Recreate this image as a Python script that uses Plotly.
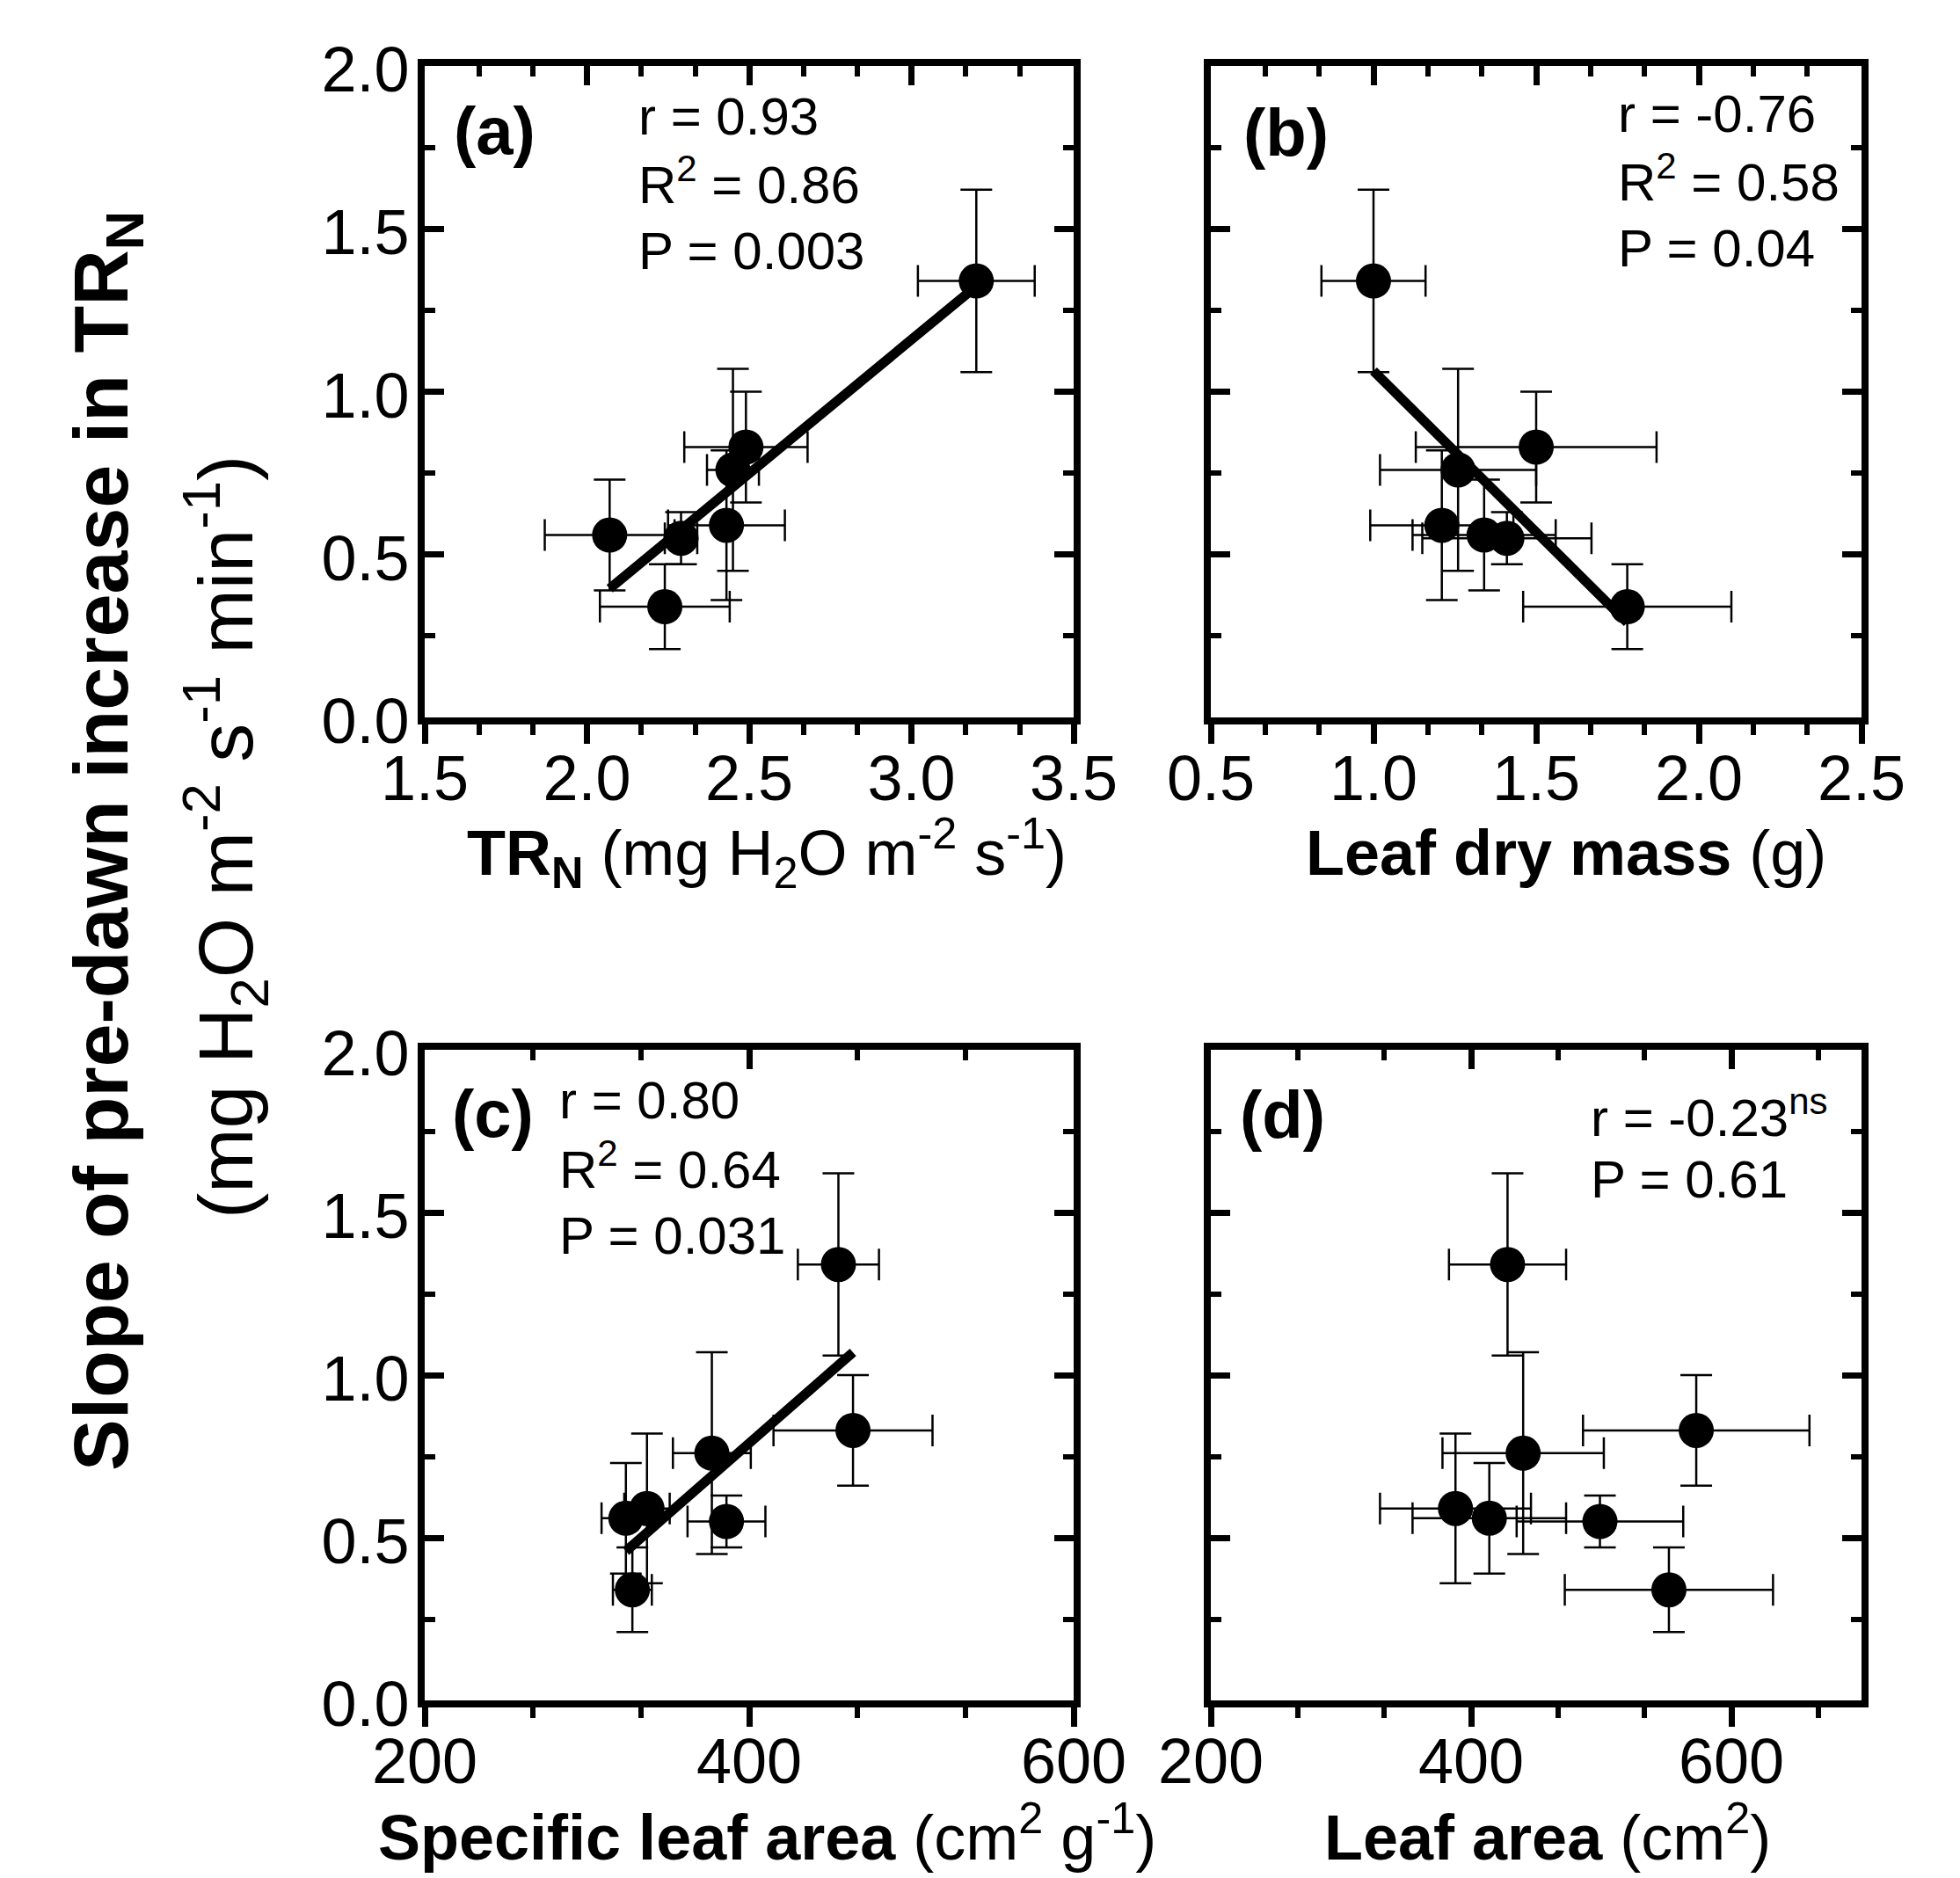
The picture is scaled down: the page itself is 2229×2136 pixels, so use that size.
import numpy as np
import plotly.graph_objects as go

W, H = 2229, 2136

# ---- data (same seven genotypes in every panel) ----
slope = [1.34, 0.83, 0.76, 0.59, 0.56, 0.55, 0.34]
slope_sd = [0.28, 0.17, 0.31, 0.23, 0.17, 0.08, 0.13]

trn = [3.20, 2.49, 2.45, 2.43, 2.07, 2.29, 2.24]
trn_sd = [0.18, 0.19, 0.08, 0.18, 0.20, 0.05, 0.20]

ldm = [1.00, 1.50, 1.26, 1.21, 1.34, 1.41, 1.78]
ldm_sd = [0.16, 0.37, 0.24, 0.22, 0.22, 0.26, 0.32]

sla = [455, 464, 377, 337, 324, 386, 328]
sla_sd = [25, 49, 24, 14, 15, 24, 12]

la = [428, 573, 440, 388, 414, 499, 552]
la_sd = [45, 87, 62, 58, 59, 64, 80]

FONT = "Liberation Sans, Arial, Helvetica, sans-serif"
TICKFONT = 72


def fx(p):
    return p / W


def fy(p):
    return 1 - p / H


# plot-area pixel boxes
COLS = [(483, 1221), (1377, 2117)]
ROWS = [(75, 816), (1194, 1934)]

panels = [
    dict(x=trn, xe=trn_sd, rng=[1.5, 3.5], dt=0.5, fmt=".1f", fit=True, col=0, row=0, ylab=True),
    dict(x=ldm, xe=ldm_sd, rng=[0.5, 2.5], dt=0.5, fmt=".1f", fit=True, col=1, row=0, ylab=False),
    dict(x=sla, xe=sla_sd, rng=[200, 600], dt=200, fmt="d", fit=True, col=0, row=1, ylab=True),
    dict(x=la, xe=la_sd, rng=[200, 700], dt=200, fmt="d", fit=False, col=1, row=1, ylab=False),
]

fig = go.Figure()
layout = dict(
    width=W, height=H, margin=dict(l=0, r=0, t=0, b=0, pad=0, autoexpand=False),
    paper_bgcolor="white", plot_bgcolor="white", showlegend=False,
    font=dict(family=FONT, color="black"),
)

for i, p in enumerate(panels):
    n = i + 1
    xa = "x" if n == 1 else f"x{n}"
    ya = "y" if n == 1 else f"y{n}"
    xt = f"x{n + 4}"
    c0, c1 = COLS[p["col"]]
    r0, r1 = ROWS[p["row"]]
    xdom = [fx(c0), fx(c1)]
    ydom = [fy(r1), fy(r0)]

    fig.add_trace(go.Scatter(
        x=p["x"], y=slope, mode="markers", xaxis=xa, yaxis=ya,
        marker=dict(size=40, color="black", line=dict(width=0)),
        error_x=dict(type="data", array=p["xe"], color="black", thickness=2.5, width=18),
        error_y=dict(type="data", array=slope_sd, color="black", thickness=2.5, width=18),
        hoverinfo="skip"))
    if p["fit"]:
        k, b = np.polyfit(p["x"], slope, 1)
        xs = np.array([min(p["x"]), max(p["x"])])
        fig.add_trace(go.Scatter(x=xs, y=k * xs + b, mode="lines", xaxis=xa, yaxis=ya,
                                 line=dict(color="black", width=11), hoverinfo="skip"))
    # anchor trace for the top (inside-tick) axis
    fig.add_trace(go.Scatter(x=[None], y=[None], xaxis=xt, yaxis=ya, hoverinfo="skip"))

    tick_common = dict(tickcolor="black", tickwidth=7, ticklen=22)
    minor_common = dict(tickcolor="black", tickwidth=6, ticklen=12, showgrid=False)

    layout["xaxis" if n == 1 else f"xaxis{n}"] = dict(
        domain=xdom, range=p["rng"], anchor=ya, showline=True, linewidth=8, linecolor="black",
        mirror=True, ticks="outside", tick0=p["rng"][0], dtick=p["dt"], tickformat=p["fmt"],
        minor=dict(ticks="outside", tick0=p["rng"][0], dtick=p["dt"] / 3, **minor_common),
        showgrid=False, zeroline=False, automargin=False, ticklabelstandoff=-22,
        tickfont=dict(size=TICKFONT, color="black", family=FONT),
        fixedrange=True, **tick_common)
    layout[f"xaxis{n + 4}"] = dict(
        domain=xdom, range=p["rng"], anchor=ya, overlaying=xa, side="top", showline=False,
        ticks="inside", tick0=p["rng"][0], dtick=p["dt"], showticklabels=False,
        minor=dict(ticks="inside", tick0=p["rng"][0], dtick=p["dt"] / 3, **minor_common),
        showgrid=False, zeroline=False, automargin=False, fixedrange=True, **tick_common)
    layout["yaxis" if n == 1 else f"yaxis{n}"] = dict(
        domain=ydom, range=[0, 2], anchor=xa, showline=True, linewidth=8, linecolor="black",
        mirror="ticks", ticks="inside", tick0=0, dtick=0.5, tickformat=".1f",
        minor=dict(ticks="inside", tick0=0, dtick=0.25, **minor_common),
        showticklabels=p["ylab"], showgrid=False, zeroline=False, automargin=False,
        ticklabelstandoff=-5, ticklabelshift=4,
        tickfont=dict(size=TICKFONT, color="black", family=FONT), fixedrange=True, **tick_common)

ann = []


def txt(text, x, y, size, xanchor="center", yanchor="middle", angle=0):
    ann.append(dict(text=text, x=fx(x), y=fy(y), xref="paper", yref="paper",
                    xanchor=xanchor, yanchor=yanchor, showarrow=False, textangle=angle,
                    font=dict(size=size, color="black", family=FONT)))


# panel letters
txt("<b>(a)</b>", 562, 148, 76)
txt("<b>(b)</b>", 1462, 150, 76)
txt("<b>(c)</b>", 560, 1266, 76)
txt("<b>(d)</b>", 1458, 1267, 76)

# statistics
STAT = 60
txt("r = 0.93", 724, 132, STAT, xanchor="left")
txt("R<sup>2</sup> = 0.86", 724, 206, STAT, xanchor="left")
txt("P = 0.003", 724, 286, STAT, xanchor="left")

txt("r = -0.76", 1838, 129, STAT, xanchor="left")
txt("R<sup>2</sup> = 0.58", 1838, 203, STAT, xanchor="left")
txt("P = 0.04", 1838, 282, STAT, xanchor="left")

txt("r = 0.80", 634, 1251, STAT, xanchor="left")
txt("R<sup>2</sup> = 0.64", 634, 1326, STAT, xanchor="left")
txt("P = 0.031", 634, 1405, STAT, xanchor="left")

txt("r = -0.23<sup>ns</sup>", 1807, 1267, STAT, xanchor="left")
txt("P = 0.61", 1807, 1341, STAT, xanchor="left")

# x-axis titles
XT = 72
txt("<b>TR<sub>N</sub></b> (mg H<sub>2</sub>O m<sup>-2</sup> s<sup>-1</sup>)", 872, 970, XT)
txt("<b>Leaf dry mass</b> (g)", 1781, 970, XT)
txt("<b>Specific leaf area</b> (cm<sup>2</sup> g<sup>-1</sup>)", 872, 2084, XT)
txt("<b>Leaf area</b> (cm<sup>2</sup>)", 1760, 2084, XT)

# y-axis title (two lines)
txt("<b>Slope of pre-dawn increase in TR<sub>N</sub></b>", 120, 957, 88, angle=-90)
txt("(mg H<sub>2</sub>O m<sup>-2</sup> s<sup>-1</sup> min<sup>-1</sup>)", 256, 952, 88, angle=-90)

layout["annotations"] = ann
fig.update_layout(**layout)
fig.write_html("out.html", config={"displayModeBar": False},
               post_script="document.body.style.margin='0';document.body.style.overflow='hidden';")
